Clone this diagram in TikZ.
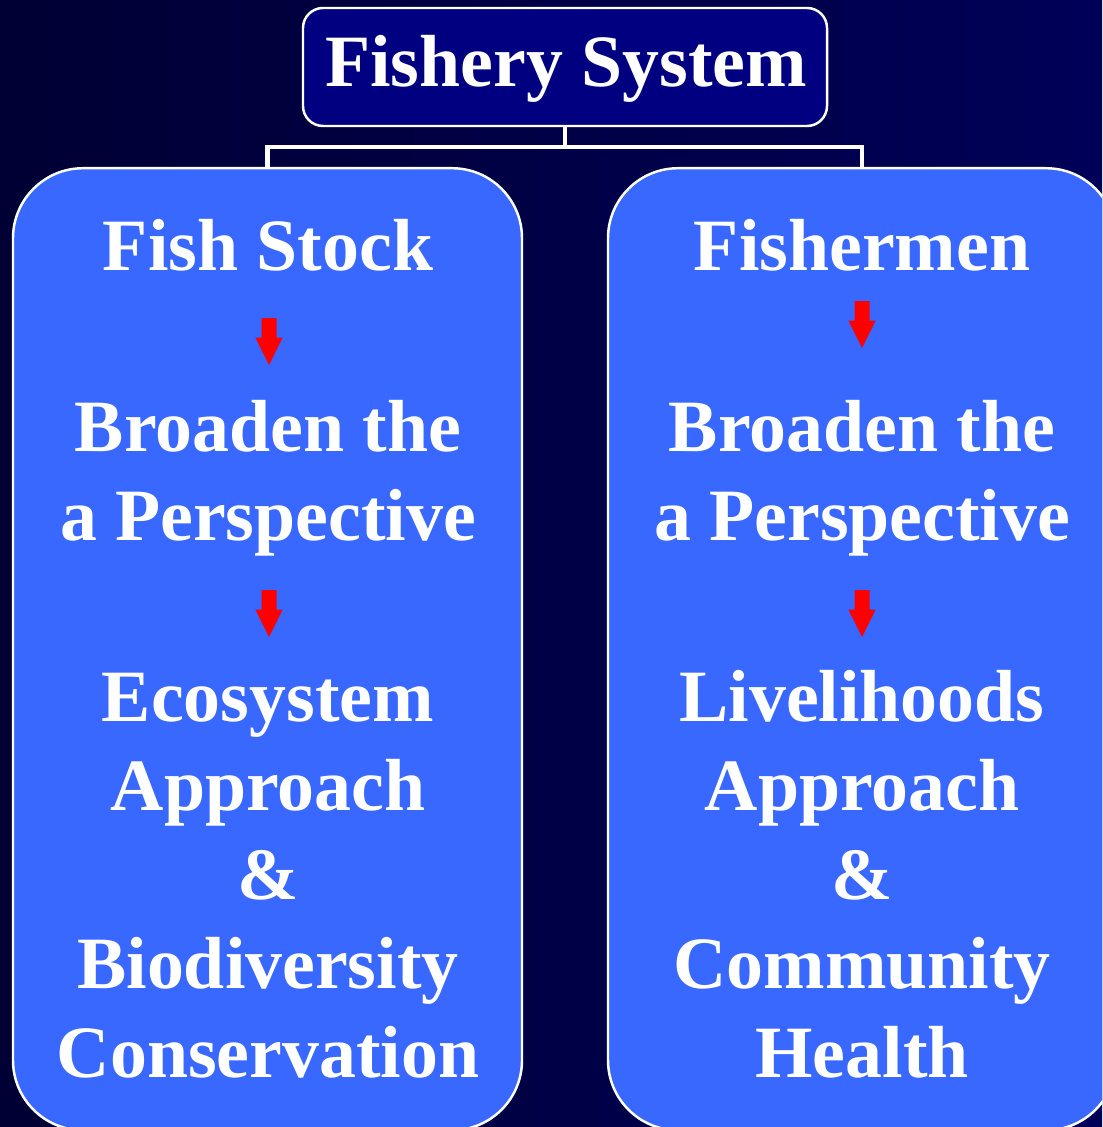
\documentclass[tikz,border=0pt]{standalone}
\usepackage{fontspec}
\setmainfont{Liberation Serif}
\usepackage{xcolor}
\usepackage{tikz}
\usetikzlibrary{shapes.arrows}

\definecolor{bgLeft}{RGB}{0,0,52}
\definecolor{bgRight}{RGB}{0,0,88}
\definecolor{titleNavy}{RGB}{0,0,128}
\definecolor{panelBlue}{RGB}{56,104,255}
\definecolor{arrowRed}{RGB}{255,0,0}

\tikzset{
	panel/.style={draw=white, line width=0.7pt, fill=panelBlue, rounded corners=0.7cm, anchor=north},
	word/.style={text=white, font=\fontsize{21}{25}\selectfont\bfseries, anchor=base, inner sep=0pt},
	down/.style={single arrow, fill=arrowRed, draw=none, shape border rotate=270, minimum height=0.47cm, inner sep=0.068cm, single arrow head extend=0.062cm, single arrow tip angle=53},
	link/.style={draw=white, line width=1.2pt}
}

\begin{document}
\begin{tikzpicture}
		\pgfmathsetmacro{\lineGap}{0.89}
		
		\useasboundingbox (0,0) rectangle (11.02,-11.27);
		\shade[left color=bgLeft, right color=bgRight] (0,0) rectangle (11.02,-11.27);
		
		\begin{scope}
			\clip (0,0) rectangle (11.02,-11.27);
			\node[panel, minimum width=5.09cm, minimum height=9.62cm] (stock) at (2.675,-1.67) {};
			\node[panel, minimum width=5.08cm, minimum height=9.62cm] (men) at (8.62,-1.67) {};
		\end{scope}
		
		\node[draw=white, line width=0.7pt, fill=titleNavy, rounded corners=0.2cm, minimum width=5.24cm, minimum height=1.18cm] (sys) at (5.65,-0.67) {};
		\node[word] (sysText) at (5.66,-0.87) {Fishery System};
		
		\draw[link] (sys.south) -- ++(0,-0.2) coordinate (split);
		\draw[link] (stock.north) |- (split) -| (men.north);
		
		% left column
		\node[word] (stockHead) at (2.68,-2.71) {Fish Stock};
		\node[down] (stockArrA) at (2.69,-3.34) {};
		\node[word] (stockB1) at (2.68,-4.52) {Broaden the};
		\node[word] (stockB2) at (2.68,-4.52-\lineGap) {a Perspective};
		\node[down] (stockArrB) at (2.69,-6.06) {};
		\foreach \txt [count=\i] in {Ecosystem,Approach,\&,Biodiversity,Conservation} {
			\node[word] (stockC\i) at (2.68,{-7.21-\lineGap*(\i-1)}) {\txt};
		}
		
		% right column
		\node[word] (menHead) at (8.62,-2.71) {Fishermen};
		\node[down] (menArrA) at (8.62,-3.17) {};
		\node[word] (menB1) at (8.62,-4.52) {Broaden the};
		\node[word] (menB2) at (8.62,-4.52-\lineGap) {a Perspective};
		\node[down] (menArrB) at (8.62,-6.06) {};
		\foreach \txt [count=\i] in {Livelihoods,Approach,\&,Community,Health} {
			\node[word] (menC\i) at (8.62,{-7.21-\lineGap*(\i-1)}) {\txt};
		}
	\end{tikzpicture}
\end{document}
